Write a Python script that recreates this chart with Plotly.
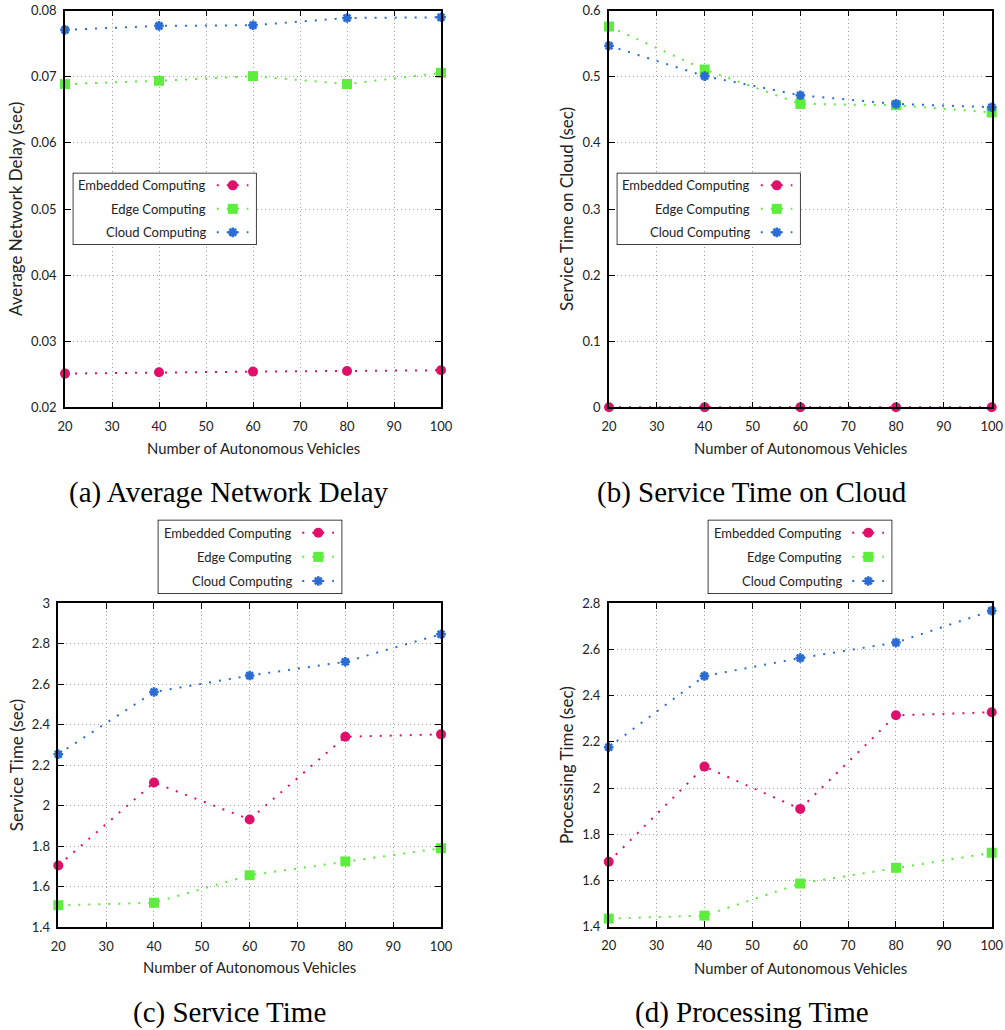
import plotly.graph_objects as go

W, H = 1005, 1030

# ---------------- data ----------------
vehicles = [20, 40, 60, 80, 100]
series_names = ["Embedded Computing", "Edge Computing", "Cloud Computing"]

a_embedded = [0.0251, 0.0253, 0.0254, 0.0255, 0.0256]
a_edge = [0.0689, 0.0694, 0.0701, 0.0689, 0.0706]
a_cloud = [0.0771, 0.0777, 0.0778, 0.0789, 0.0790]

b_embedded = [0.0, 0.0, 0.0, 0.0, 0.0]
b_edge = [0.576, 0.511, 0.459, 0.457, 0.446]
b_cloud = [0.547, 0.501, 0.472, 0.459, 0.454]

c_embedded = [1.705, 2.114, 1.932, 2.340, 2.352]
c_edge = [1.509, 1.521, 1.657, 1.725, 1.790]
c_cloud = [2.254, 2.561, 2.642, 2.710, 2.846]

d_embedded = [1.681, 2.093, 1.910, 2.315, 2.328]
d_edge = [1.435, 1.448, 1.587, 1.655, 1.720]
d_cloud = [2.177, 2.485, 2.563, 2.630, 2.768]

y_titles = ["Average Network Delay (sec)", "Service Time on Cloud (sec)",
            "Service Time (sec)", "Processing Time (sec)"]
captions = ["(a) Average Network Delay", "(b) Service Time on Cloud",
            "(c) Service Time", "(d) Processing Time"]
x_title = "Number of Autonomous Vehicles"
y_ranges = [[0.02, 0.08], [0, 0.6], [1.4, 3.0], [1.4, 2.8]]
y_dticks = [0.01, 0.1, 0.2, 0.2]

# ---------------- styles ----------------
colors = ["#e0106a", "#5ced3d", "#2a6cd6"]
symbols = ["circle", "square", "asterisk"]
FONT = "Lato, 'Open Sans', sans-serif"
SERIF = "'Liberation Serif', 'DejaVu Serif', serif"

# panel pixel boxes: (left, right, top, bottom)
panels = [
    (65.0, 441.0, 10.7, 407.3),
    (609.0, 991.7, 10.7, 407.3),
    (58.3, 441.0, 603.0, 927.3),
    (608.7, 991.7, 603.3, 926.7),
]
# legend boxes (left, right, top, bottom)
legend_boxes = [
    (72.7, 256.7, 172.7, 245.0),
    (616.7, 800.7, 172.7, 245.0),
    (157.7, 342.3, 519.7, 594.0),
    (707.7, 892.3, 519.7, 594.0),
]
ytitle_x = [16, 567, 16, 566]
xtitle_y = [448, 448, 967, 968]
caption_y = [493, 493, 1012, 1012]
caption_x = [229, 752, 229, 752]


def px_x(v):
    return v / W


def px_y(v):
    return 1 - v / H


fig = go.Figure()

all_data = [
    [a_embedded, a_edge, a_cloud],
    [b_embedded, b_edge, b_cloud],
    [c_embedded, c_edge, c_cloud],
    [d_embedded, d_edge, d_cloud],
]


def marker_style(s):
    if symbols[s] == "asterisk":
        return dict(color=colors[s], size=8, symbol="asterisk", opacity=1,
                    line=dict(color=colors[s], width=2.6))
    return dict(color=colors[s], size=10, symbol=symbols[s], opacity=1,
                line=dict(width=0))


annotations = []
layout_axes = {}

for p in range(4):
    xa = "x" if p == 0 else f"x{p+1}"
    ya = "y" if p == 0 else f"y{p+1}"
    xk = "xaxis" if p == 0 else f"xaxis{p+1}"
    yk = "yaxis" if p == 0 else f"yaxis{p+1}"
    l, r, t, b = panels[p]
    for s in range(3):
        fig.add_trace(go.Scatter(
            x=vehicles, y=all_data[p][s], mode="lines+markers",
            name=series_names[s], showlegend=False,
            line=dict(color=colors[s], width=2, dash="2px,8px"),
            marker=marker_style(s), xaxis=xa, yaxis=ya, cliponaxis=False))
    common = dict(showline=True, linecolor="black", linewidth=1.5, mirror="ticks",
                  ticks="inside", ticklen=6, tickwidth=1, tickcolor="black",
                  showgrid=True, gridcolor="#a0a0a0", griddash="1px,3px", gridwidth=1,
                  zeroline=False, automargin=False,
                  tickfont=dict(family=FONT, size=13, color="#222"))
    layout_axes[xk] = dict(common, domain=[px_x(l), px_x(r)], range=[20, 100],
                           dtick=10, tick0=20, anchor=ya, ticklabelstandoff=6)
    layout_axes[yk] = dict(common, domain=[px_y(b), px_y(t)], range=y_ranges[p],
                           dtick=y_dticks[p], tick0=y_ranges[p][0], anchor=xa,
                           ticklabelstandoff=4)
    # axis titles
    annotations.append(dict(text=x_title, xref="paper", yref="paper",
                            x=px_x((l + r) / 2), y=px_y(xtitle_y[p]),
                            showarrow=False, xanchor="center", yanchor="middle",
                            font=dict(family=FONT, size=14.8, color="#222")))
    annotations.append(dict(text=y_titles[p], xref="paper", yref="paper",
                            x=px_x(ytitle_x[p]), y=px_y((t + b) / 2), textangle=-90,
                            showarrow=False, xanchor="center", yanchor="middle",
                            font=dict(family=FONT, size=17, color="#222")))
    annotations.append(dict(text=captions[p], xref="paper", yref="paper",
                            x=px_x(caption_x[p]), y=px_y(caption_y[p]),
                            showarrow=False, xanchor="center", yanchor="middle",
                            font=dict(family=SERIF, size=29, color="black")))

    # ---- custom legend (text left, sample right) on its own hidden axes ----
    lx = f"x{p+5}"
    ly = f"y{p+5}"
    lxk = f"xaxis{p+5}"
    lyk = f"yaxis{p+5}"
    L, R, T, B = legend_boxes[p]
    layout_axes[lxk] = dict(domain=[px_x(L), px_x(R)], range=[0, 1], visible=False,
                            anchor=ly, fixedrange=True, automargin=False)
    layout_axes[lyk] = dict(domain=[px_y(B), px_y(T)], range=[0, 1], visible=False,
                            anchor=lx, fixedrange=True, automargin=False)
    # white legend frame drawn as a filled trace so it hides the grid beneath
    fig.add_trace(go.Scatter(
        x=[0, 1, 1, 0, 0], y=[0, 0, 1, 1, 0], mode="lines", fill="toself",
        fillcolor="white", line=dict(color="black", width=1.5),
        showlegend=False, hoverinfo="skip", xaxis=lx, yaxis=ly, cliponaxis=False))
    rows = [0.825, 0.5, 0.175]
    for s in range(3):
        annotations.append(dict(text=series_names[s], xref=lx, yref=ly,
                                x=0.737, y=rows[s], showarrow=False,
                                xanchor="right", yanchor="middle",
                                font=dict(family=FONT, size=13, color="#222")))
        fig.add_trace(go.Scatter(
            x=[0.783, 0.955], y=[rows[s]] * 2, mode="lines",
            showlegend=False, hoverinfo="skip",
            line=dict(color=colors[s], width=2, dash="2px,8px"),
            xaxis=lx, yaxis=ly, cliponaxis=False))
        fig.add_trace(go.Scatter(
            x=[0.870], y=[rows[s]], mode="markers",
            showlegend=False, hoverinfo="skip",
            marker=marker_style(s), xaxis=lx, yaxis=ly, cliponaxis=False))

fig.update_layout(
    width=W, height=H, margin=dict(l=0, r=0, t=0, b=0, autoexpand=False),
    paper_bgcolor="white", plot_bgcolor="rgba(0,0,0,0)",
    showlegend=False, annotations=annotations,
    font=dict(family=FONT, color="#222"),
    **layout_axes,
)

fig.write_html(
    "out.html",
    config={"displayModeBar": False},
    post_script="document.body.style.margin='0';document.body.style.overflow='hidden';",
)
